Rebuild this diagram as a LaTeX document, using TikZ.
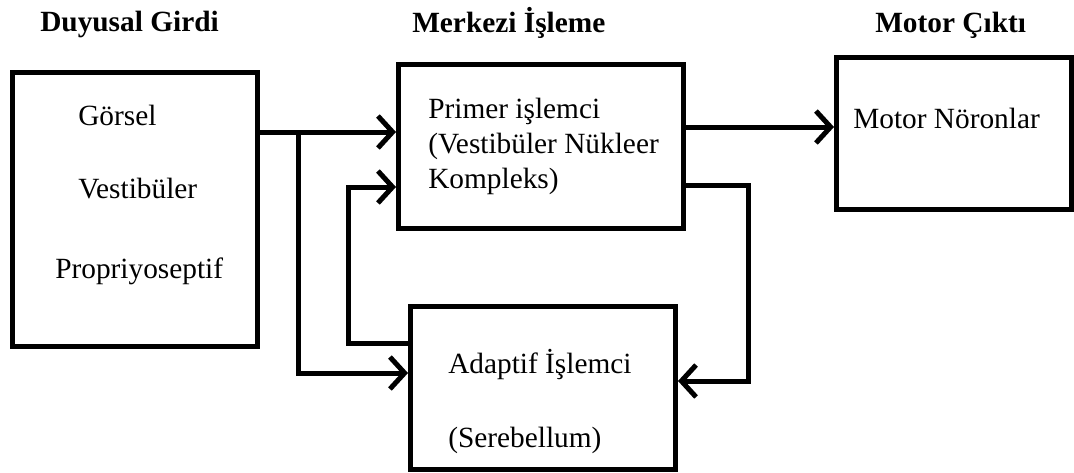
\documentclass[tikz,border=0pt]{standalone}
\usepackage{fontspec}
\setmainfont{Liberation Serif}
\usetikzlibrary{positioning, arrows.meta}
\tikzset{Block/.style={%
    shape=rectangle,%
    draw=black,%
    line width=3.75pt,%
    inner sep=0pt,%
}}
\tikzset{FlowEdge/.style={%
    -{Straight Barb[length=11pt,width=24pt]},%
    line width=3.75pt,%
    line join=miter,%
}}
\tikzset{Label/.style={%
    anchor=base west,%
    inner sep=0pt,%
    font=\fontsize{22}{26}\selectfont,%
}}
\tikzset{Heading/.style={%
    anchor=base west,%
    inner sep=0pt,%
    font=\bfseries\fontsize{22}{26}\selectfont,%
}}

\begin{document}
\begin{tikzpicture}[x=0.75pt, y=-0.75pt]
    \useasboundingbox (0,0) rectangle (1074,472);

    \node[Heading] (hsens) at (40,31) {Duyusal Girdi};
    \node[Heading] (hcent) at (412,32) {Merkezi İşleme};
    \node[Heading] (hmot) at (875,32) {Motor Çıktı};

    \node[Block, minimum width=183.75pt, minimum height=205.5pt] (sens) at (135,209.5) {};
    \node[Block, minimum width=213.75pt, minimum height=123pt] (prim) at (541,146.5) {};
    \node[Block, minimum width=176.25pt, minimum height=114pt] (motor) at (954,133.5) {};
    \node[Block, minimum width=198.75pt, minimum height=122.25pt] (adapt) at (543,388) {};

    \node[Label] (gorsel) at (78,125) {Görsel};
    \node[Label] (vest) at (78,198) {Vestibüler};
    \node[Label] (prop) at (55,278) {Propriyoseptif};
    \node[Label] (prim1) at (428,118) {Primer işlemci};
    \node[Label] (prim2) at (428,153) {(Vestibüler Nükleer};
    \node[Label] (prim3) at (428,188) {Kompleks)};
    \node[Label] (mnor) at (853,128) {Motor Nöronlar};
    \node[Label] (adapt1) at (448,373) {Adaptif İşlemci};
    \node[Label] (adapt2) at (448,447) {(Serebellum)};

    \coordinate (split) at (298,132);
    \coordinate (lowin) at (298,373);
    \coordinate (fbout) at (348,343);
    \coordinate (fbin) at (348,187);
    \coordinate (rtop) at (748,185);
    \coordinate (rbot) at (748,381);
    \coordinate (mout) at (760,127);

    \draw[FlowEdge] (sens.east |- split) -- (prim.west |- split);
    \draw[FlowEdge] (split) -- (lowin) -- (adapt.west |- lowin);
    \draw[FlowEdge] (adapt.west |- fbout) -- (fbout) -- (fbin) -- (prim.west |- fbin);
    \draw[FlowEdge] (prim.east |- rtop) -- (rtop) -- (rbot) -- (adapt.east |- rbot);
    \draw[FlowEdge] (prim.east |- mout) -- (motor.west |- mout);
\end{tikzpicture}
\end{document}
